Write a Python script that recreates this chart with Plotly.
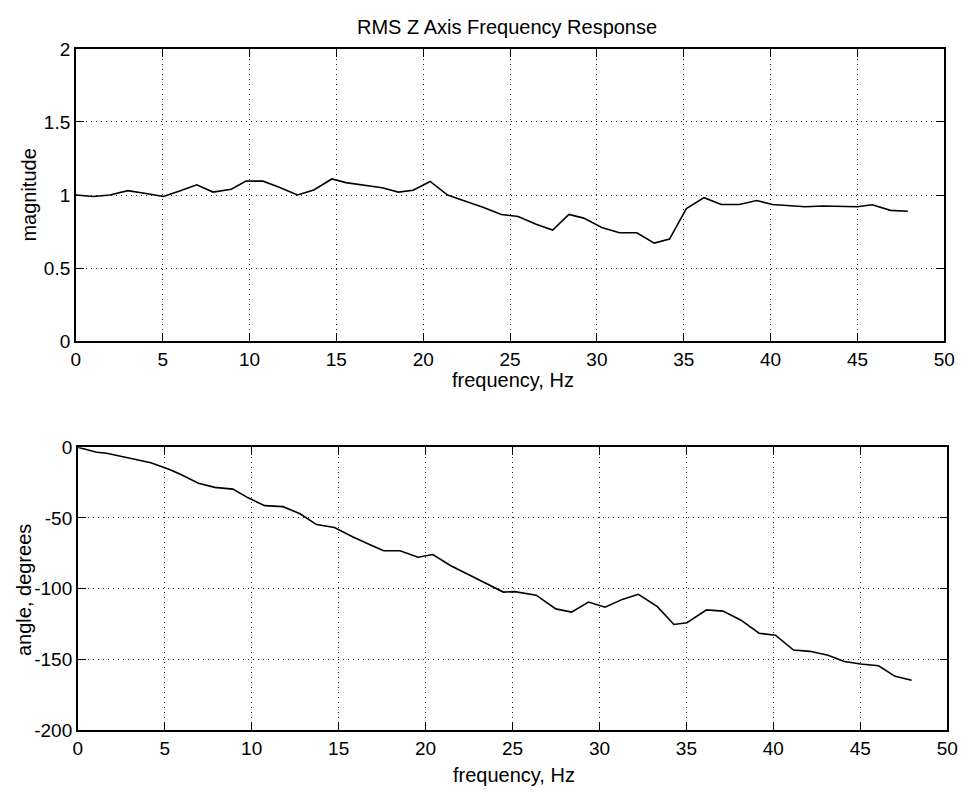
import plotly.graph_objects as go

# ---- data ----
freq_mag = [0.0, 1.0, 1.96, 3.0, 4.04, 5.04, 6.02, 6.96, 7.9, 8.95, 9.8, 10.78, 11.78,
            12.76, 13.7, 14.74, 15.55, 16.68, 17.63, 18.57, 19.42, 20.4, 21.4, 22.35,
            23.4, 24.5, 25.46, 26.5, 27.45, 28.39, 29.24, 30.28, 31.3, 32.3, 33.3,
            34.18, 35.15, 36.17, 37.16, 38.2, 39.2, 40.1, 41.04, 42.0, 43.0, 44.0,
            45.0, 45.85, 46.9, 47.9]
magnitude = [1.0, 0.99, 1.0, 1.03, 1.01, 0.99, 1.03, 1.07, 1.02, 1.04, 1.095, 1.095,
             1.05, 1.0, 1.035, 1.11, 1.085, 1.067, 1.05, 1.02, 1.033, 1.093, 1.0, 0.96,
             0.918, 0.867, 0.853, 0.8, 0.76, 0.867, 0.842, 0.778, 0.742, 0.742, 0.671,
             0.698, 0.907, 0.982, 0.935, 0.935, 0.962, 0.935, 0.927, 0.92, 0.925, 0.92,
             0.92, 0.933, 0.895, 0.889]

freq_ang = [0.0, 1.09, 1.66, 3.26, 4.2, 5.24, 5.9, 6.94, 7.88, 8.92, 9.77, 10.75, 11.8,
            12.78, 13.73, 14.76, 15.8, 16.84, 17.59, 18.53, 19.57, 20.42, 21.45, 22.49,
            23.43, 24.47, 25.13, 26.36, 27.49, 28.39, 29.37, 30.32, 31.35, 32.24, 33.33,
            34.28, 35.03, 36.16, 37.1, 38.14, 39.18, 40.12, 41.16, 42.1, 43.14, 44.08,
            45.02, 46.05, 47.0, 47.95]
angle = [0.0, -3.6, -4.3, -8.7, -11.0, -15.6, -19.1, -25.5, -28.4, -29.6, -35.6, -41.3,
         -42.0, -47.0, -54.7, -56.7, -63.3, -69.1, -73.2, -73.2, -77.8, -75.9, -83.8,
         -90.2, -96.2, -102.4, -102.1, -104.6, -114.3, -116.6, -109.5, -113.1, -107.4,
         -104.0, -112.7, -125.3, -124.1, -115.0, -115.9, -122.3, -131.5, -132.9, -143.4,
         -144.3, -147.1, -151.5, -153.3, -154.5, -162.0, -164.8]

x_ticks = [0, 5, 10, 15, 20, 25, 30, 35, 40, 45, 50]
x_ticktext = ["0", "5", "10", "15", "20", "25", "30", "35", "40", "45", "50"]
mag_ticks = [0, 0.5, 1, 1.5, 2]
mag_ticktext = ["0", "0.5", "1", "1.5", "2"]
ang_ticks = [-200, -150, -100, -50, 0]
ang_ticktext = ["-200", "-150", "-100", "-50", "0"]

title_text = "RMS Z Axis Frequency Response"
x_label = "frequency, Hz"
y1_label = "magnitude"
y2_label = "angle, degrees"

W, H = 974, 801
FONT = "Liberation Sans, Arial, sans-serif"

fig = go.Figure()
fig.add_trace(go.Scatter(x=freq_mag, y=magnitude, mode="lines",
                         line=dict(color="black", width=1.6),
                         xaxis="x", yaxis="y", showlegend=False))
fig.add_trace(go.Scatter(x=freq_ang, y=angle, mode="lines",
                         line=dict(color="black", width=1.6),
                         xaxis="x2", yaxis="y2", showlegend=False))

def px_x(p):
    return p / W

def px_y(p):
    return 1 - p / H

axis_common = dict(
    showline=True, linecolor="black", linewidth=1.5, mirror="allticks",
    ticks="inside", ticklen=8, tickwidth=1.3, tickcolor="black",
    showgrid=True, gridcolor="#222222", gridwidth=1, griddash="1px,4px",
    zeroline=False, tickfont=dict(family=FONT, size=19, color="black"),
)

fig.update_layout(
    width=W, height=H,
    margin=dict(l=0, r=0, t=0, b=0),
    paper_bgcolor="white", plot_bgcolor="white",
    font=dict(family=FONT, size=20, color="black"),
    xaxis=dict(domain=[px_x(72), px_x(955)], range=[0, 50],
               tickmode="array", tickvals=x_ticks, ticktext=x_ticktext,
               anchor="y", **axis_common),
    yaxis=dict(domain=[px_y(340), px_y(40)], range=[0, 2],
               tickmode="array", tickvals=mag_ticks, ticktext=mag_ticktext,
               anchor="x", **axis_common),
    xaxis2=dict(domain=[px_x(74), px_x(958)], range=[0, 50],
                tickmode="array", tickvals=x_ticks, ticktext=x_ticktext,
                anchor="y2", **axis_common),
    yaxis2=dict(domain=[px_y(739.5), px_y(449)], range=[-200, 0],
                tickmode="array", tickvals=ang_ticks, ticktext=ang_ticktext,
                anchor="x2", **axis_common),
    annotations=[
        dict(text=title_text, x=px_x(510), y=px_y(17), xref="paper", yref="paper",
             showarrow=False, xanchor="center", yanchor="middle",
             font=dict(family=FONT, size=20, color="black")),
        dict(text=x_label, x=px_x(516), y=px_y(380), xref="paper", yref="paper",
             showarrow=False, xanchor="center", yanchor="middle",
             font=dict(family=FONT, size=20, color="black")),
        dict(text=x_label, x=px_x(518), y=px_y(786), xref="paper", yref="paper",
             showarrow=False, xanchor="center", yanchor="middle",
             font=dict(family=FONT, size=20, color="black")),
        dict(text=y1_label, x=px_x(24), y=px_y(190), xref="paper", yref="paper",
             showarrow=False, xanchor="center", yanchor="middle", textangle=-90,
             font=dict(family=FONT, size=20, color="black")),
        dict(text=y2_label, x=px_x(20), y=px_y(596), xref="paper", yref="paper",
             showarrow=False, xanchor="center", yanchor="middle", textangle=-90,
             font=dict(family=FONT, size=20, color="black")),
    ],
)

fig.write_html("out.html")
